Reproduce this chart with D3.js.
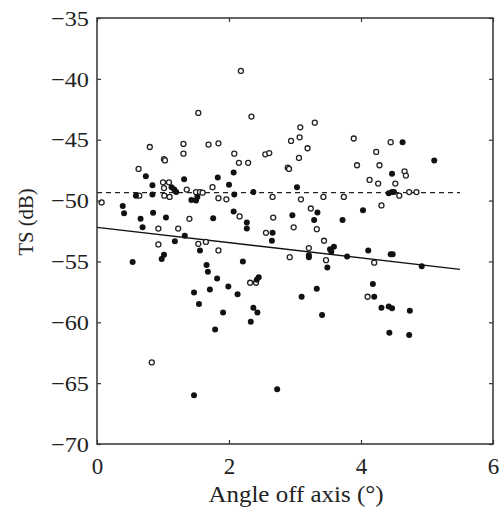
<!DOCTYPE html>
<html><head><meta charset="utf-8">
<script src="https://cdn.jsdelivr.net/npm/d3@7"></script>
<style>body{margin:0;background:#fff}svg{display:block}</style>
</head><body>
<script>
const openX = [1.535,0.80,1.31,1.31,1.015,1.03,1.69,1.84,0.63,2.18,2.34,3.08,3.30,2.94,3.07,3.19,3.06,2.08,2.15,2.29,2.55,2.61,2.89,2.91,3.89,3.94,4.45,4.23,4.28,1.0,1.09,1.015,1.36,1.5,1.56,1.6,1.75,1.84,1.96,0.07,0.64,1.02,1.1,1.40,0.93,1.23,0.93,1.535,1.65,1.84,2.66,3.09,3.43,3.74,2.16,2.67,3.24,2.98,3.33,2.56,3.44,3.21,2.92,3.47,2.32,2.41,4.66,4.68,4.13,4.26,4.52,4.58,4.73,4.84,4.31,4.20,4.10,0.83];
const openY = [-42.8,-45.6,-45.35,-46.15,-46.6,-46.7,-45.4,-45.3,-47.4,-39.35,-43.1,-43.98,-43.6,-45.1,-44.8,-45.7,-46.5,-46.15,-46.9,-46.9,-46.2,-46.1,-47.3,-47.4,-44.9,-47.1,-45.2,-46.0,-47.1,-48.5,-48.5,-48.97,-49.1,-49.3,-49.3,-49.35,-48.9,-49.8,-49.9,-50.15,-49.6,-49.6,-49.7,-51.5,-52.3,-52.3,-53.6,-53.55,-53.4,-54.1,-49.7,-49.9,-49.7,-49.7,-51.3,-51.4,-50.65,-52.2,-52.35,-52.65,-53.3,-53.9,-54.65,-54.9,-56.75,-56.75,-47.6,-47.95,-48.3,-48.6,-48.6,-49.6,-49.3,-49.3,-50.4,-55.1,-57.9,-63.3];
const filledX = [4.63,5.11,0.74,0.84,1.13,1.17,1.20,1.32,1.83,1.43,1.5,1.52,0.59,0.84,0.39,0.41,0.66,0.69,0.85,1.045,1.76,1.33,1.18,1.56,1.015,0.98,0.54,1.66,1.68,1.82,1.99,1.71,1.47,1.545,1.91,2.0,2.07,2.08,2.37,3.03,2.07,2.27,2.27,2.96,3.34,3.29,3.72,2.66,2.65,3.21,3.21,3.53,3.59,3.55,3.79,3.49,2.21,2.45,2.42,2.13,3.33,3.10,2.37,2.43,3.41,4.47,4.42,4.47,4.5,4.03,4.11,4.45,4.48,4.92,4.18,4.20,4.31,4.42,4.47,4.74,1.79,1.47,2.33,2.73,4.43,4.73];
const filledY = [-45.2,-46.7,-48.0,-48.75,-48.9,-49.1,-49.3,-48.25,-48.1,-49.95,-50.0,-49.7,-49.6,-49.5,-50.45,-51.05,-51.5,-52.2,-51.0,-51.4,-51.46,-52.9,-53.35,-54.1,-54.45,-54.8,-55.05,-55.3,-55.85,-56.4,-57.05,-57.3,-57.55,-58.5,-59.2,-48.7,-47.7,-49.5,-49.3,-48.9,-50.9,-51.8,-52.3,-51.2,-50.97,-51.6,-51.6,-52.65,-53.3,-54.5,-54.65,-54.0,-53.8,-54.2,-54.6,-55.5,-55.0,-56.3,-56.5,-57.7,-57.25,-57.9,-58.8,-59.2,-59.4,-47.8,-49.4,-49.3,-49.3,-50.8,-54.1,-54.4,-54.4,-55.4,-56.85,-57.9,-58.8,-58.7,-58.85,-59.05,-60.6,-66.0,-59.95,-65.5,-60.85,-61.05];
const meanLineX = [0, 5.5];
const meanLineY = [-49.35, -49.35];
const fitLineX = [0, 5.5];
const fitLineY = [-52.2, -55.65];
const xTicks = [0, 2, 4, 6];
const yTicks = [-70, -65, -60, -55, -50, -45, -40, -35];
const xTitle = "Angle off axis (°)";
const yTitle = "TS (dB)";

const W = 503, H = 512;
const m = {left: 97, right: 10, top: 18, bottom: 68};
const svg = d3.select("body").append("svg").attr("width", W).attr("height", H);
const x = d3.scaleLinear().domain([0, 6]).range([m.left, W - m.right]);
const y = d3.scaleLinear().domain([-70, -35]).range([H - m.bottom, m.top]);
const font = "'Liberation Serif', 'Times New Roman', serif";
const fmt = d => (d < 0 ? "\u2212" + Math.abs(d) : String(d));

// lines
const line = d3.line().x(d => x(d[0])).y(d => y(d[1]));
svg.append("path").datum(meanLineX.map((v, i) => [v, meanLineY[i]]))
  .attr("d", line).attr("fill", "none").attr("stroke", "#222").attr("stroke-width", 1.2)
  .attr("stroke-dasharray", "5,4");
svg.append("path").datum(fitLineX.map((v, i) => [v, fitLineY[i]]))
  .attr("d", line).attr("fill", "none").attr("stroke", "#111").attr("stroke-width", 1.4);

// points
svg.append("g").selectAll("circle").data(openX.map((v, i) => [v, openY[i]])).join("circle")
  .attr("cx", d => x(d[0])).attr("cy", d => y(d[1])).attr("r", 2.5)
  .attr("fill", "#fff").attr("stroke", "#222").attr("stroke-width", 1.3);
svg.append("g").selectAll("circle").data(filledX.map((v, i) => [v, filledY[i]])).join("circle")
  .attr("cx", d => x(d[0])).attr("cy", d => y(d[1])).attr("r", 3)
  .attr("fill", "#111");

// axes (ticks inward, mirrored)
function styleAxis(g, fs) {
  g.select(".domain").remove();
  g.selectAll(".tick line").attr("stroke", "#333").attr("stroke-width", 1.2);
  g.selectAll("text").attr("font-family", font).attr("font-size", fs).attr("fill", "#222");
}
const gx = svg.append("g").attr("transform", `translate(0,${H - m.bottom})`)
  .call(d3.axisBottom(x).tickValues(xTicks).tickFormat(fmt).tickSizeInner(-4).tickPadding(14));
styleAxis(gx, 23);
const gy = svg.append("g").attr("transform", `translate(${m.left},0)`)
  .call(d3.axisLeft(y).tickValues(yTicks).tickFormat(fmt).tickSizeInner(-4).tickPadding(8));
styleAxis(gy, 22);
gy.selectAll("text").attr("dy", "0.33em").attr("textLength", 38).attr("lengthAdjust", "spacingAndGlyphs");
const gxt = svg.append("g").attr("transform", `translate(0,${m.top})`)
  .call(d3.axisTop(x).tickValues(xTicks).tickFormat("").tickSizeInner(-4));
styleAxis(gxt, 22);
const gyr = svg.append("g").attr("transform", `translate(${W - m.right},0)`)
  .call(d3.axisRight(y).tickValues(yTicks).tickFormat("").tickSizeInner(-4));
styleAxis(gyr, 22);

// frame
svg.append("rect").attr("x", m.left).attr("y", m.top)
  .attr("width", W - m.left - m.right).attr("height", H - m.top - m.bottom)
  .attr("fill", "none").attr("stroke", "#333").attr("stroke-width", 1.5);

// titles
svg.append("text").attr("x", 296).attr("y", 502)
  .attr("text-anchor", "middle").attr("font-family", font).attr("font-size", 23).attr("fill", "#222")
  .attr("textLength", 175).attr("lengthAdjust", "spacingAndGlyphs")
  .text(xTitle);
svg.append("text").attr("transform", `translate(33,222) rotate(-90)`)
  .attr("text-anchor", "middle").attr("font-family", font).attr("font-size", 22).attr("fill", "#222")
  .attr("textLength", 67).attr("lengthAdjust", "spacingAndGlyphs")
  .text(yTitle);
</script>
</body></html>
